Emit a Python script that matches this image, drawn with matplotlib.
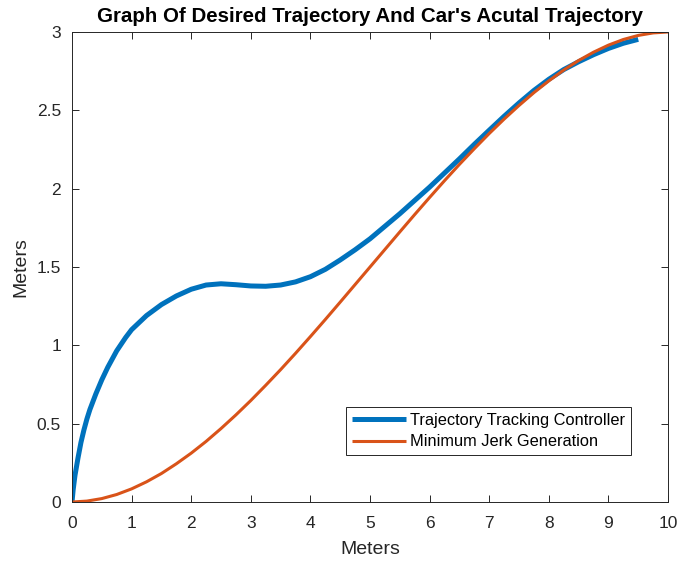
import matplotlib
matplotlib.use("Agg")
import matplotlib.pyplot as plt

plt.rcParams['font.family'] = ['Liberation Sans', 'DejaVu Sans']

# Car's actual path (trajectory tracking controller)
tracked_x = [0, 0.02, 0.05, 0.10, 0.15, 0.20, 0.25, 0.30, 0.40, 0.50, 0.60, 0.75,
             0.90, 1.0, 1.25, 1.5, 1.75, 2.0, 2.25, 2.5, 2.75, 3.0, 3.25, 3.5,
             3.75, 4.0, 4.25, 4.5, 4.75, 5.0, 5.25, 5.5, 5.75, 6.0, 6.25, 6.5,
             6.75, 7.0, 7.25, 7.5, 7.75, 8.0, 8.25, 8.5, 8.75, 9.0, 9.25, 9.5]
tracked_y = [0, 0.08, 0.17, 0.28, 0.38, 0.46, 0.53, 0.59, 0.69, 0.78, 0.86, 0.965,
             1.05, 1.10, 1.19, 1.26, 1.315, 1.358, 1.385, 1.393, 1.387, 1.379, 1.377, 1.385,
             1.405, 1.438, 1.485, 1.545, 1.61, 1.68, 1.76, 1.84, 1.925, 2.01, 2.10, 2.19,
             2.283, 2.373, 2.462, 2.547, 2.627, 2.698, 2.76, 2.81, 2.855, 2.895, 2.928, 2.953]

# Desired path (minimum jerk generation)
desired_x = [0, 0.25, 0.5, 0.75, 1.0, 1.25, 1.5, 1.75, 2.0, 2.25, 2.5, 2.75, 3.0,
             3.25, 3.5, 3.75, 4.0, 4.25, 4.5, 4.75, 5.0, 5.25, 5.5, 5.75, 6.0,
             6.25, 6.5, 6.75, 7.0, 7.25, 7.5, 7.75, 8.0, 8.25, 8.5, 8.75, 9.0,
             9.25, 9.5, 9.75, 10.0]
desired_y = [0, 0.006, 0.022, 0.048, 0.084, 0.129, 0.182, 0.244, 0.312, 0.387, 0.469, 0.556, 0.648,
             0.745, 0.845, 0.949, 1.056, 1.165, 1.276, 1.388, 1.5, 1.612, 1.724, 1.835, 1.944,
             2.051, 2.155, 2.255, 2.352, 2.444, 2.531, 2.613, 2.688, 2.757, 2.818, 2.871, 2.916,
             2.952, 2.978, 2.994, 3.0]

series_labels = ["Trajectory Tracking Controller", "Minimum Jerk Generation"]
x_ticks = [0, 1, 2, 3, 4, 5, 6, 7, 8, 9, 10]
y_ticks = [0, 0.5, 1, 1.5, 2, 2.5, 3]
y_tick_labels = ["0", "0.5", "1", "1.5", "2", "2.5", "3"]

axis_color = "#262626"

fig = plt.figure(figsize=(6.78, 5.63), dpi=100)
ax = fig.add_axes([0.1062, 0.1083, 0.8791, 0.8349])

ax.plot(tracked_x, tracked_y, color="#0072BD", linewidth=3.6,
        solid_capstyle="butt", solid_joinstyle="round", label=series_labels[0])
ax.plot(desired_x, desired_y, color="#D95319", linewidth=2.2,
        solid_capstyle="butt", solid_joinstyle="round", label=series_labels[1])

ax.set_xlim(0, 10)
ax.set_ylim(0, 3)
ax.set_xticks(x_ticks)
ax.set_xticklabels([str(t) for t in x_ticks])
ax.set_yticks(y_ticks)
ax.set_yticklabels(y_tick_labels)

ax.tick_params(direction="in", length=5, width=0.7, colors=axis_color,
               labelsize=12.5, top=True, right=True)
ax.tick_params(axis="x", pad=10)
ax.tick_params(axis="y", pad=8)
for s in ax.spines.values():
    s.set_color(axis_color)
    s.set_linewidth(0.7)

ax.set_title("Graph Of Desired Trajectory And Car's Acutal Trajectory",
             fontsize=14.8, fontweight="bold", color="black", pad=7)
ax.set_xlabel("Meters", fontsize=14, color=axis_color, labelpad=7)
ax.set_ylabel("Meters", fontsize=14, color=axis_color, labelpad=5)

leg = ax.legend(loc="lower right", bbox_to_anchor=(0.938, 0.1), borderaxespad=0,
                fontsize=11.8, frameon=True, fancybox=False, framealpha=1,
                edgecolor=axis_color, handlelength=3.3, handletextpad=0.25,
                borderpad=0.35, labelspacing=0.4)
leg.get_frame().set_linewidth(0.7)

fig.savefig("out.png", dpi=100)
